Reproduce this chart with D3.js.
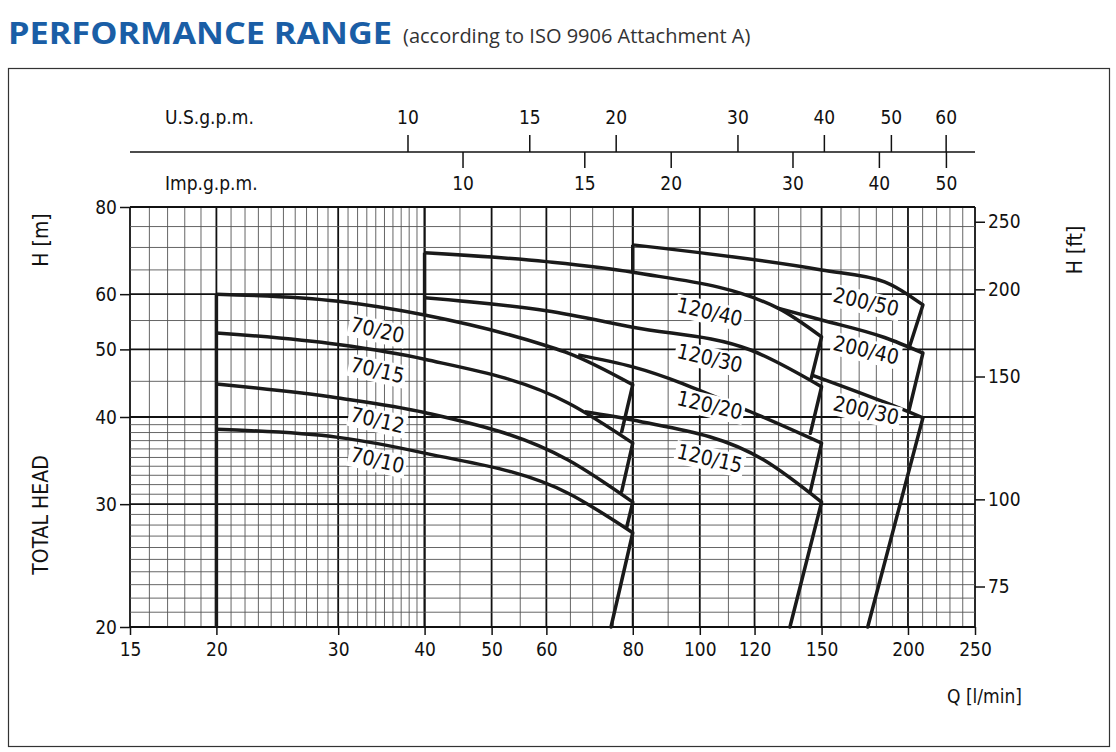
<!DOCTYPE html>
<html><head><meta charset="utf-8">
<script src="https://cdn.jsdelivr.net/npm/d3@7"></script>
<style>
body{margin:0;background:#fff}
text{font-family:"DejaVu Sans Condensed","DejaVu Sans",sans-serif;fill:#111}
</style></head>
<body><svg id="c" width="1116" height="752"></svg>
<script>
// axes ticks
var qTicks = [15,20,30,40,50,60,80,100,120,150,200,250];
var hTicks = [20,30,40,50,60,80];
var ftTicks = [75,100,150,200,250];
var usTicks = [10,15,20,30,40,50,60];
var impTicks = [10,15,20,30,40,50];

// grid steps (value ranges and step)
var qGrid = [[15,40,1],[40,80,5],[80,250,10]];
var hGrid = [[20,40,1],[40,80,5]];

// pump curves [Q l/min, H m]  (last point = the drop to the next curve)
var curves = [
  {name:"70/20", pts:[[20,60],[30,58.6],[40,56],[60,50.6],[64.5,49.4],[80,44.5],[77.1,38.1]]},
  {name:"70/15", pts:[[20,52.8],[30,50.8],[40,48.4],[64.5,41.9],[80,36.7],[77.1,31.3]]},
  {name:"70/12", pts:[[20,44.6],[30,42.6],[40,40.6],[64.5,34.7],[80,30.2],[78.4,27.8]]},
  {name:"70/10", pts:[[20,38.4],[30,37.4],[40,35.5],[64.5,31.1],[80,27.3],[74.4,20]]},
  {name:"120/40", pts:[[40,68.8],[60,66.8],[80,64.5],[129.7,57.3],[150,52.1],[145,45.5]]},
  {name:"120/30", pts:[[40,59.3],[60,56.8],[80,53.8],[118.4,49.9],[150,44.2],[144.5,37.9]]},
  {name:"120/20", pts:[[66.7,49.1],[80,47.2],[118.4,40.7],[150,36.7],[144.5,31.3]]},
  {name:"120/15", pts:[[68.2,40.7],[80,39.6],[123.8,34.7],[150,30.2],[135,20]]},
  {name:"200/50", pts:[[80,70.6],[150,65],[185,62.5],[210.2,57.9],[200.7,50.2]]},
  {name:"200/40", pts:[[129.7,57.3],[150,55.1],[185,52],[210.2,49.4],[200.7,40.9]]},
  {name:"200/30", pts:[[145.6,45.9],[185,42],[210.2,39.9],[174.9,20]]}
];
// family left boundaries [Q, Hbottom, Htop]
var walls = [[20,20,60],[40,56,68.8],[80,64.5,70.6]];
// curve labels [text, Q, H]
var labels = [["70/20",34.2,53.3],["70/15",34.2,46.7],["70/12",34.2,39.6],["70/10",34.2,34.7],
  ["120/40",103.4,56.6],["120/30",103.4,48.6],["120/20",103.4,41.6],["120/15",103.4,34.9],
  ["200/50",174,58.5],["200/40",174,49.9],["200/30",174,40.9]];

var svg = d3.select("#c");
var x = d3.scaleLog().domain([15,250]).range([130,975]);
var y = d3.scaleLog().domain([20,80]).range([627,207]);

svg.append("text").attr("x",8).attr("y",44).style("font-family","'Open Sans',sans-serif")
  .style("font-weight","700").style("font-size","30px").style("fill","#1a5ea6")
  .attr("textLength",384).attr("lengthAdjust","spacingAndGlyphs").text("PERFORMANCE RANGE");
svg.append("text").attr("x",403).attr("y",43).style("font-family","'Open Sans',sans-serif")
  .style("font-size","20px").style("fill","#333").text("(according to ISO 9906 Attachment A)");
svg.append("rect").attr("x",8.5).attr("y",68.5).attr("width",1101).attr("height",678)
  .attr("fill","none").attr("stroke","#333").attr("stroke-width",1.2);

// grid
var g = svg.append("g");
qGrid.forEach(function(r){
  for (var v=r[0]; v<=r[1]+1e-9; v+=r[2]) {
    var maj = qTicks.indexOf(+v.toFixed(2))>=0;
    g.append("line").attr("x1",x(v)).attr("x2",x(v)).attr("y1",y(20)).attr("y2",y(80))
      .attr("stroke",maj?"#111":"#555").attr("stroke-width",maj?1.8:0.9);
  }
});
hGrid.forEach(function(r){
  for (var v=r[0]; v<=r[1]+1e-9; v+=r[2]) {
    var maj = hTicks.indexOf(v)>=0;
    g.append("line").attr("x1",x(15)).attr("x2",x(250)).attr("y1",y(v)).attr("y2",y(v))
      .attr("stroke",maj?"#111":"#555").attr("stroke-width",maj?1.8:0.9);
  }
});

// axes
var fs = "19px";
var ax = svg.append("g").attr("transform","translate(0,627)")
  .call(d3.axisBottom(x).tickValues(qTicks).tickFormat(d3.format("d")).tickSize(8));
var ay = svg.append("g").attr("transform","translate(130,0)")
  .call(d3.axisLeft(y).tickValues(hTicks).tickFormat(d3.format("d")).tickSize(10));
var yf = d3.scaleLog().domain([20/0.3048,80/0.3048]).range([627,207]);
var ar = svg.append("g").attr("transform","translate(975,0)")
  .call(d3.axisRight(yf).tickValues(ftTicks).tickFormat(d3.format("d")).tickSize(10));
[ax,ay,ar].forEach(function(a){
  a.select(".domain").remove();
  a.selectAll("line").attr("stroke","#111").attr("stroke-width",1.5);
  a.selectAll("text").style("font-size",fs).style("font-family","'DejaVu Sans Condensed',sans-serif").attr("fill","#111");
});
ax.selectAll("text").attr("dy","0.95em");

// top flow axes
svg.append("line").attr("x1",130).attr("x2",975).attr("y1",152).attr("y2",152).attr("stroke","#111").attr("stroke-width",1.5);
var xu = function(v){return x(v*3.785);}, xi = function(v){return x(v*4.546);};
usTicks.forEach(function(v){
  svg.append("line").attr("x1",xu(v)).attr("x2",xu(v)).attr("y1",152).attr("y2",135).attr("stroke","#111").attr("stroke-width",1.5);
  svg.append("text").attr("x",xu(v)).attr("y",124).attr("text-anchor","middle").style("font-size",fs).text(v);
});
impTicks.forEach(function(v){
  svg.append("line").attr("x1",xi(v)).attr("x2",xi(v)).attr("y1",152).attr("y2",168).attr("stroke","#111").attr("stroke-width",1.5);
  svg.append("text").attr("x",xi(v)).attr("y",190).attr("text-anchor","middle").style("font-size",fs).text(v);
});
svg.append("text").attr("x",165).attr("y",124).style("font-size",fs).text("U.S.g.p.m.");
svg.append("text").attr("x",165).attr("y",190).style("font-size",fs).text("Imp.g.p.m.");
svg.append("text").attr("x",1022).attr("y",703).attr("text-anchor","end").style("font-size",fs).text("Q [l/min]");
svg.append("text").attr("transform","translate(48,240) rotate(-90)").attr("text-anchor","middle").style("font-size","21px").text("H [m]");
svg.append("text").attr("transform","translate(48,515) rotate(-90)").attr("text-anchor","middle").style("font-size","21px").text("TOTAL HEAD");
svg.append("text").attr("transform","translate(1082,250) rotate(-90)").attr("text-anchor","middle").style("font-size","21px").text("H [ft]");

// curves: smooth head curve, straight drop at the end
var smooth = d3.line().x(function(d){return x(d[0]);}).y(function(d){return y(d[1]);}).curve(d3.curveMonotoneX);
var line = d3.line().x(function(d){return x(d[0]);}).y(function(d){return y(d[1]);});
var cg = svg.append("g").attr("stroke","#1a1a1a").attr("stroke-width",3.5).attr("fill","none");
walls.forEach(function(w){
  cg.append("path").attr("d",line([[w[0],w[1]],[w[0],w[2]]]));
});
curves.forEach(function(c){
  var n = c.pts.length;
  cg.append("path").attr("d",smooth(c.pts.slice(0,n-1)));
  cg.append("path").attr("d",line(c.pts.slice(n-2))).attr("stroke-linecap","round");
});
labels.forEach(function(l){
  var lg = svg.append("g").attr("transform","translate("+x(l[1])+","+y(l[2])+") rotate(13)");
  var t = lg.append("text").attr("text-anchor","middle").attr("dy","0.35em").style("font-size","21px").text(l[0]);
  var b = t.node().getBBox();
  lg.insert("rect","text").attr("x",b.x-2).attr("y",b.y+1).attr("width",b.width+4).attr("height",b.height-1).attr("fill","#fff");
});
</script></body></html>
